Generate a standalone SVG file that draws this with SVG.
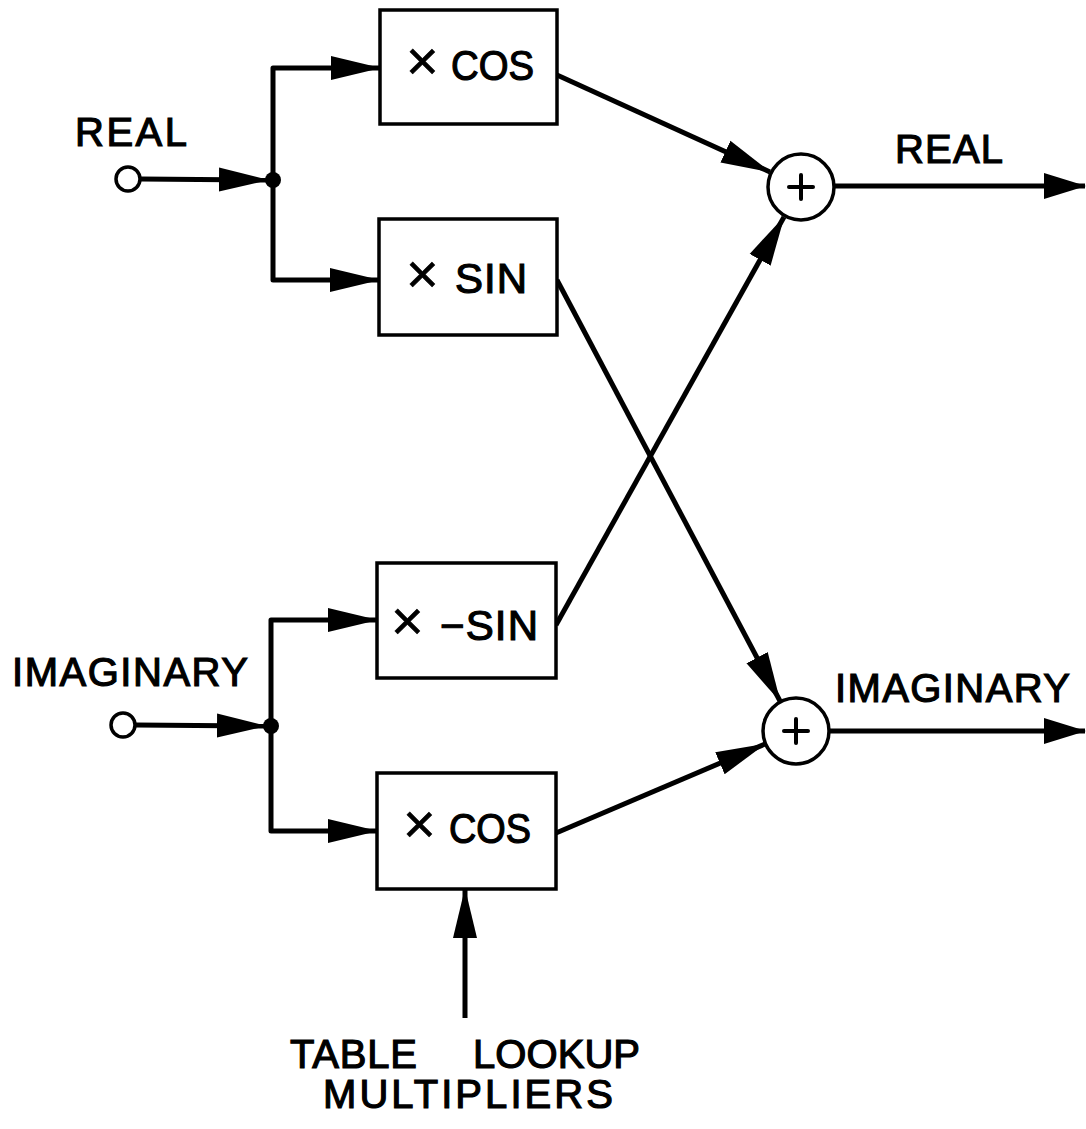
<svg xmlns="http://www.w3.org/2000/svg" width="1086" height="1129" viewBox="0 0 1086 1129">
<style>
.box{fill:#fff;stroke:#000;stroke-width:3.5}
.wire{fill:none;stroke:#000;stroke-width:5;stroke-linejoin:round}
.arr{marker-end:url(#ah)}
.big{marker-end:url(#ahb)}
.sum{fill:#fff;stroke:#000;stroke-width:3.5}
.plus{stroke:#000;stroke-width:4;stroke-linecap:round}
.port{fill:#fff;stroke:#000;stroke-width:3.5}
text{font-family:"Liberation Sans",Arial,sans-serif;font-size:40px;fill:#000;stroke:#000;stroke-width:1.2}
.bt{font-size:42px}
.x{font-size:56px;stroke-width:0.6}
</style>
<defs>
<marker id="ah" markerUnits="userSpaceOnUse" viewBox="0 0 50 26" refX="49" refY="13" markerWidth="50" markerHeight="26" orient="auto">
<path d="M0,1 L50,13 L0,25 z" fill="#000"/>
</marker>
<marker id="ahb" markerUnits="userSpaceOnUse" viewBox="0 0 42 28" refX="41" refY="14" markerWidth="42" markerHeight="28" orient="auto">
<path d="M0,1 L42,14 L0,27 z" fill="#000"/>
</marker>
</defs>

<g id="connectors">
<path class="wire arr" d="M141,179 L268,180"/>
<path class="wire arr" d="M273,180 L273,68 L380,68"/>
<path class="wire arr" d="M273,180 L273,280 L379,280"/>
<path class="wire arr" d="M136,725 L266,726"/>
<path class="wire arr" d="M271,726 L271,620 L377,620"/>
<path class="wire arr" d="M271,726 L271,831 L377,831"/>
<path class="wire arr" d="M557,75 L770,172"/>
<path class="wire arr" d="M556,625 L784,217"/>
<path class="wire arr" d="M557,280 L780,701"/>
<path class="wire arr" d="M556,833 L765,744"/>
<path class="wire big" d="M835,186 L1085,186"/>
<path class="wire big" d="M829,731 L1085,731"/>
<path class="wire arr" d="M465,1018 L465,889"/>
<circle cx="273" cy="180" r="8" fill="#000"/>
<circle cx="271" cy="726" r="8" fill="#000"/>
</g>

<g id="in-real">
<circle class="port" cx="128" cy="179" r="12"/>
<text x="75" y="146" textLength="112" lengthAdjust="spacing">REAL</text>
</g>
<g id="in-imag">
<circle class="port" cx="123" cy="725" r="12"/>
<text x="12" y="686" textLength="236" lengthAdjust="spacing">IMAGINARY</text>
</g>

<g id="mul-cos-top">
<rect class="box" x="380" y="10" width="177" height="114"/>
<text class="bt" x="406" y="80"><tspan class="x">×</tspan><tspan x="451" textLength="83" lengthAdjust="spacingAndGlyphs">COS</tspan></text>
</g>
<g id="mul-sin">
<rect class="box" x="379" y="219" width="178" height="116"/>
<text class="bt" x="406" y="293"><tspan class="x">×</tspan><tspan x="455" textLength="72" lengthAdjust="spacing">SIN</tspan></text>
</g>
<g id="mul-negsin">
<rect class="box" x="377" y="563" width="179" height="115"/>
<text class="bt" x="391" y="640"><tspan class="x">×</tspan><tspan x="440" textLength="98" lengthAdjust="spacing">−SIN</tspan></text>
</g>
<g id="mul-cos-bot">
<rect class="box" x="377" y="773" width="179" height="116"/>
<text class="bt" x="403" y="843"><tspan class="x">×</tspan><tspan x="449" textLength="82" lengthAdjust="spacingAndGlyphs">COS</tspan></text>
</g>

<g id="sum-real">
<circle class="sum" cx="801" cy="187" r="33"/>
<line class="plus" x1="789" y1="187" x2="813" y2="187"/>
<line class="plus" x1="801" y1="175" x2="801" y2="199"/>
</g>
<g id="sum-imag">
<circle class="sum" cx="796" cy="731" r="33"/>
<line class="plus" x1="784" y1="731" x2="808" y2="731"/>
<line class="plus" x1="796" y1="719" x2="796" y2="743"/>
</g>

<g id="out-real">
<text x="895" y="163" textLength="108" lengthAdjust="spacing">REAL</text>
</g>
<g id="out-imag">
<text x="835" y="702" textLength="235" lengthAdjust="spacing">IMAGINARY</text>
</g>

<g id="table-lookup">
<text x="290" y="1068" textLength="127" lengthAdjust="spacing">TABLE</text>
<text x="473" y="1068" textLength="167" lengthAdjust="spacing">LOOKUP</text>
<text x="323" y="1108" textLength="290" lengthAdjust="spacing">MULTIPLIERS</text>
</g>
</svg>
